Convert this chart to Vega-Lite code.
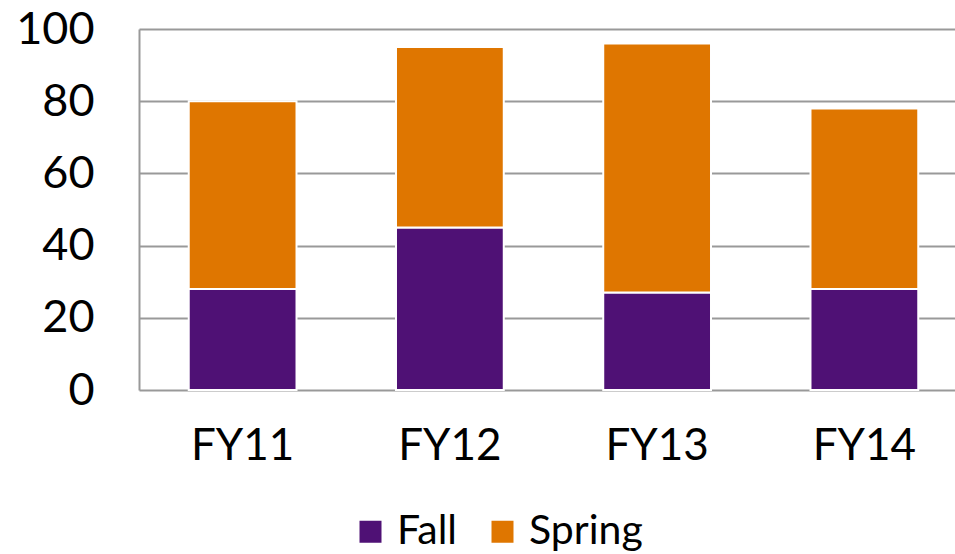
{
  "$schema": "https://vega.github.io/schema/vega-lite/v6.json",
  "autosize": {"type": "none"},
  "width": 829,
  "height": 361,
  "padding": {"left": 139, "top": 29, "right": 0, "bottom": 164},
  "background": "white",
  "config": {
    "view": {"stroke": null},
    "font": "Lato",
    "axis": {"labelFont": "Lato", "labelColor": "#000000"},
    "legend": {"labelFont": "Lato"}
  },
  "data": {
    "values": [
      {"year": "FY11", "season": "Fall", "value": 28},
      {"year": "FY11", "season": "Spring", "value": 52},
      {"year": "FY12", "season": "Fall", "value": 45},
      {"year": "FY12", "season": "Spring", "value": 50},
      {"year": "FY13", "season": "Fall", "value": 27},
      {"year": "FY13", "season": "Spring", "value": 69},
      {"year": "FY14", "season": "Fall", "value": 28},
      {"year": "FY14", "season": "Spring", "value": 50}
    ]
  },
  "mark": {"type": "bar", "stroke": "white", "strokeWidth": 2},
  "encoding": {
    "x": {
      "field": "year",
      "type": "nominal",
      "title": null,
      "scale": {"paddingInner": 0.48, "paddingOuter": 0.24},
      "axis": {
        "labelAngle": 0,
        "labelFontSize": 44,
        "labelPadding": 34,
        "ticks": false,
        "domain": false,
        "labelColor": "#000000"
      }
    },
    "y": {
      "field": "value",
      "type": "quantitative",
      "title": null,
      "stack": "zero",
      "scale": {"domain": [0, 100]},
      "axis": {
        "values": [0, 20, 40, 60, 80, 100],
        "labelFontSize": 45,
        "labelPadding": 45,
        "ticks": false,
        "domain": true,
        "domainColor": "#999999",
        "domainWidth": 2,
        "grid": true,
        "gridColor": "#999999",
        "gridWidth": 2,
        "labelColor": "#000000"
      }
    },
    "color": {
      "field": "season",
      "type": "nominal",
      "title": null,
      "scale": {"domain": ["Fall", "Spring"], "range": ["#4F1175", "#DF7600"]},
      "legend": {
        "orient": "none",
        "direction": "horizontal",
        "legendX": 211,
        "legendY": 482,
        "symbolType": "square",
        "symbolSize": 484,
        "symbolStrokeWidth": 0,
        "labelFontSize": 41,
        "labelOffset": 6,
        "columnPadding": 24,
        "labelColor": "#000000"
      }
    },
    "order": {"field": "season", "sort": "ascending"}
  }
}
